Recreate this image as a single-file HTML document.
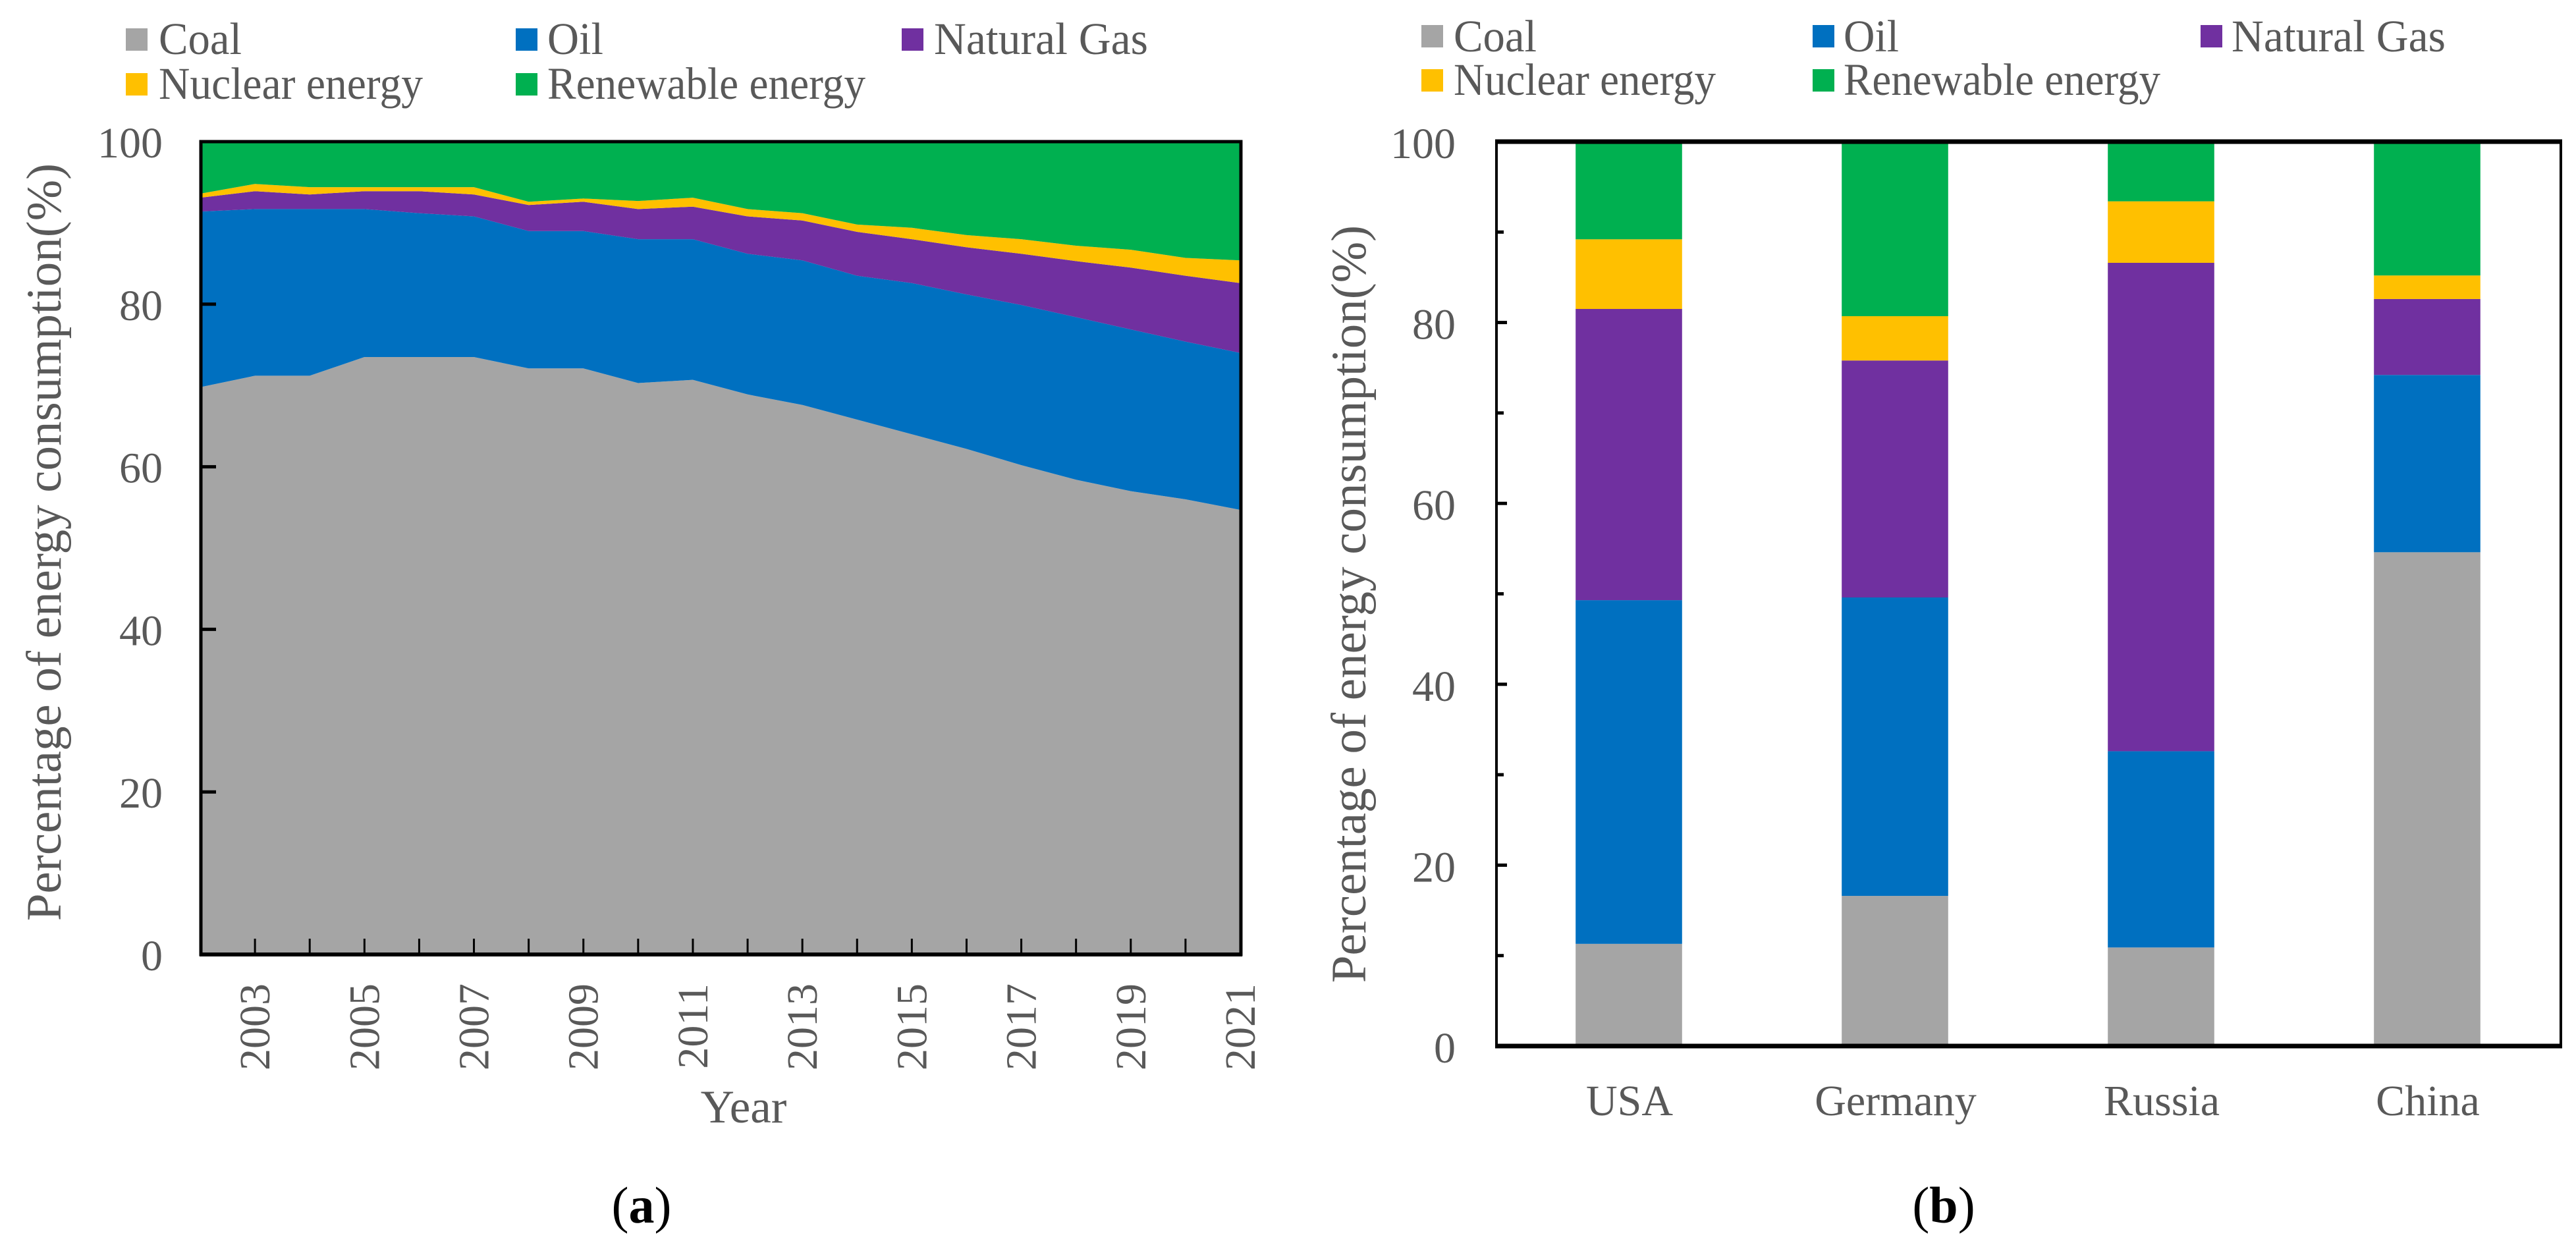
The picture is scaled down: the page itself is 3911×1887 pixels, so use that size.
<!DOCTYPE html>
<html lang="en">
<head>
<meta charset="utf-8">
<title>Energy consumption structure</title>
<style>
html,body{margin:0;padding:0;background:#fff;}
svg{display:block;}
text{font-family:"Liberation Serif",serif;fill:#595959;}
</style>
</head>
<body>
<svg id="figure" xmlns="http://www.w3.org/2000/svg" width="3911" height="1887" viewBox="0 0 3911 1887">
<rect x="0" y="0" width="3911" height="1887" fill="#ffffff"></rect>
</svg>
<script>
// ---------- shared data ----------
const seriesNames = ['Coal', 'Oil', 'Natural Gas', 'Nuclear energy', 'Renewable energy'];
const seriesColors = ['#a5a5a5', '#0070c0', '#7030a0', '#ffc000', '#00b050'];

// ---------- panel (a): share of energy consumption, China, by year ----------
const years = [2002,2003,2004,2005,2006,2007,2008,2009,2010,2011,2012,2013,2014,2015,2016,2017,2018,2019,2020,2021];
const coalShare = [69.8,71.2,71.2,73.5,73.5,73.5,72.1,72.1,70.3,70.7,68.9,67.6,65.8,64.0,62.2,60.2,58.4,57.0,56.0,54.7];
const oilShare = [21.6,20.5,20.5,18.2,17.7,17.3,16.9,16.9,17.7,17.3,17.3,17.8,17.7,18.6,19.0,19.7,20.0,19.9,19.4,19.3];
const gasShare = [1.7,2.2,1.8,2.2,2.7,2.7,3.2,3.6,3.7,4.0,4.6,4.9,5.4,5.4,5.8,6.3,6.9,7.6,8.1,8.6];
const nuclearShare = [0.5,0.9,0.9,0.5,0.5,0.9,0.4,0.4,1.0,1.1,0.9,0.9,0.9,1.4,1.5,1.8,1.9,2.2,2.2,2.8];
const renewableShare = [6.4,5.2,5.6,5.6,5.6,5.6,7.4,7.0,7.3,6.9,8.3,8.8,10.2,10.6,11.5,12.0,12.8,13.3,14.3,14.6];
const yearTickLabels = [2003,2005,2007,2009,2011,2013,2015,2017,2019,2021];
const yTickLabelsA = [0,20,40,60,80,100];

// ---------- panel (b): share of energy consumption by country ----------
const countries = ['USA', 'Germany', 'Russia', 'China'];
const coalByCountry = [11.3,16.6,10.9,54.6];
const oilByCountry = [38.0,33.0,21.7,19.6];
const gasByCountry = [32.2,26.2,54.0,8.4];
const nuclearByCountry = [7.7,4.9,6.8,2.6];
const renewableByCountry = [10.8,19.3,6.6,14.8];
const yTickLabelsB = [0,20,40,60,80,100];
const yMinorTicksB = [10,30,50,70,90];

const svg = document.getElementById('figure');
const NS = 'http://www.w3.org/2000/svg';
function mk(tag, attrs, txt) {
  const el = document.createElementNS(NS, tag);
  for (const k in attrs) el.setAttribute(k, attrs[k]);
  if (txt !== undefined) el.textContent = txt;
  svg.appendChild(el);
  return el;
}
function label(x, y, size, anchor, txt, rot) {
  const a = {x: x, y: y, 'font-size': size, 'text-anchor': anchor};
  if (rot) a.transform = 'rotate(-90 ' + x + ' ' + y + ')';
  return mk('text', a, txt);
}

// ---------- axis functions ----------
const A = {left: 304, right: 1883, top: 215, bottom: 1449};
const B = {left: 2272, right: 3888, top: 215, bottom: 1588};
const xA = function (year) { return A.left + (year - years[0]) / (years[years.length - 1] - years[0]) * (A.right - A.left); };
const yA = function (v) { return A.bottom - v / 100 * (A.bottom - A.top); };
const bandB = function () { return (B.right - B.left) / countries.length; };
const xB = function (i) { return B.left + (i + 0.5) * bandB(); };
const yB = function (v) { return B.bottom - v / 100 * (B.bottom - B.top); };

// ---------- legends ----------
function drawLegend(panel, colX, textX, rowTop, rowBase, widths) {
  const layout = [[0,0],[1,0],[2,0],[0,1],[1,1]];
  seriesNames.forEach(function (name, i) {
    const c = layout[i][0], r = layout[i][1];
    const sw = mk('rect', {x: colX[c], y: rowTop[r], width: 33, height: 34, fill: seriesColors[i]});
    
    
    const t = label(textX[c], rowBase[r], 69, 'start', name);
    t.setAttribute('textLength', widths[i]);
    t.setAttribute('lengthAdjust', 'spacingAndGlyphs');
    
    
  });
}
drawLegend('panel-a', [191,783,1369], [241,831,1418], [43,111], [82,150], [126,85,325,401,483]);
drawLegend('panel-b', [2158,2752,3341], [2207,2799,3388], [38,105], [78,144], [126,84,325,398,481]);

// ---------- panel (a) stacked areas ----------
const stackA = [coalShare, oilShare, gasShare, nuclearShare, renewableShare];
let lowerA = years.map(function () { return 0; });
stackA.forEach(function (vals, s) {
  const upper = vals.map(function (v, i) { return lowerA[i] + v; });
  const top = years.map(function (yr, i) { return xA(yr).toFixed(1) + ',' + yA(upper[i]).toFixed(1); });
  const bot = years.map(function (yr, i) { return xA(yr).toFixed(1) + ',' + yA(lowerA[i]).toFixed(1); }).reverse();
  const area = mk('polygon', {points: top.concat(bot).join(' '), fill: seriesColors[s]});
  
  
  lowerA = upper;
});

// panel (a) frame and ticks
const frameA = mk('rect', {x: A.left + 1, y: A.top, width: A.right - A.left, height: A.bottom - A.top, fill: 'none', stroke: '#000', 'stroke-width': 5});


const baseA = mk('line', {x1: A.left - 1, x2: A.right + 3, y1: A.bottom, y2: A.bottom, stroke: '#000', 'stroke-width': 6});


years.slice(1, -1).forEach(function (yr) {
  const t = mk('line', {x1: xA(yr), x2: xA(yr), y1: A.bottom, y2: A.bottom - 24, stroke: '#000', 'stroke-width': 3});
  
  
});
yTickLabelsA.forEach(function (v) {
  const t = mk('line', {x1: A.left, x2: A.left + 24, y1: yA(v), y2: yA(v), stroke: '#000', 'stroke-width': 5});
  
  
  const l = label(247, yA(v) + 24, 66, 'end', String(v));
  
  
});
yearTickLabels.forEach(function (yr) {
  const l = label(xA(yr) + 22, 1493, 66, 'end', String(yr), true);
  
  
});
const titleXA = label(1129, 1704, 71, 'middle', 'Year');


const titleYA = label(92, 823, 75, 'middle', 'Percentage of energy consumption(%)', true);



// ---------- panel (b) stacked bars ----------
const stackB = [coalByCountry, oilByCountry, gasByCountry, nuclearByCountry, renewableByCountry];
const barFraction = 0.4;
let lowerB = countries.map(function () { return 0; });
stackB.forEach(function (vals, s) {
  vals.forEach(function (v, i) {
    const w = bandB() * barFraction;
    const bar = mk('rect', {x: xB(i) - w / 2 - 1, y: yB(lowerB[i] + v), width: w, height: yB(lowerB[i]) - yB(lowerB[i] + v), fill: seriesColors[s]});
    
    
  });
  lowerB = lowerB.map(function (b, i) { return b + vals[i]; });
});

// panel (b) frame and ticks
const frameB = mk('rect', {x: B.left, y: B.top, width: B.right - B.left, height: B.bottom - B.top, fill: 'none', stroke: '#000', 'stroke-width': 4});


const topB = mk('line', {x1: B.left - 2, x2: B.right + 2, y1: B.top, y2: B.top, stroke: '#000', 'stroke-width': 7});


const baseB = mk('line', {x1: B.left - 2, x2: B.right + 2, y1: B.bottom, y2: B.bottom, stroke: '#000', 'stroke-width': 7});


yTickLabelsB.forEach(function (v) {
  const t = mk('line', {x1: B.left, x2: B.left + 16, y1: yB(v), y2: yB(v), stroke: '#000', 'stroke-width': 5});
  
  
  const l = label(2210, yB(v) + 25, 66, 'end', String(v));
  
  
});
yMinorTicksB.forEach(function (v) {
  const t = mk('line', {x1: B.left, x2: B.left + 11, y1: yB(v), y2: yB(v), stroke: '#000', 'stroke-width': 5});
  
  
});
countries.forEach(function (c, i) {
  const l = label(xB(i), 1693, 66, 'middle', c);
  
  
});
const titleYB = label(2073, 917, 75, 'middle', 'Percentage of energy consumption(%)', true);



// ---------- panel captions ----------
function caption(x, letter, name) {
  const t = mk('text', {x: x, y: 1856, 'font-size': 78, 'text-anchor': 'middle', style: 'fill:#000'});
  const open = document.createElementNS(NS, 'tspan');
  open.textContent = '(';
  t.appendChild(open);
  const b = document.createElementNS(NS, 'tspan');
  b.setAttribute('font-weight', 'bold');
  b.textContent = letter;
  t.appendChild(b);
  const close = document.createElementNS(NS, 'tspan');
  close.textContent = ')';
  t.appendChild(close);
  
  
}
caption(974, 'a', 'panel-a-caption');
caption(2951, 'b', 'panel-b-caption');
</script>
</body>
</html>
